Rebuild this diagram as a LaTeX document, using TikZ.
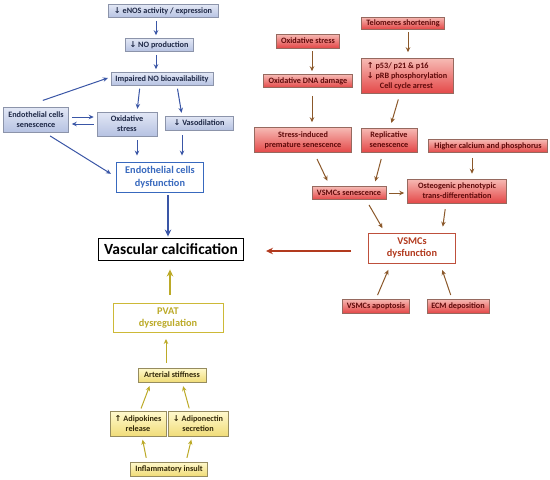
\documentclass[tikz,border=0pt]{standalone}
\usepackage{fontspec}
\setmainfont{Carlito}
\newfontfamily\symfont{DejaVu Sans}
\usetikzlibrary{arrows.meta}
\definecolor{ectop}{RGB}{226,231,245}
\definecolor{ecbot}{RGB}{182,194,226}
\definecolor{ecgray}{RGB}{140,148,170}
\definecolor{ectext}{RGB}{30,40,70}
\definecolor{ecline}{RGB}{56,105,190}
\definecolor{ecarrow}{RGB}{58,86,166}
\definecolor{smtop}{RGB}{246,186,180}
\definecolor{smbot}{RGB}{228,72,72}
\definecolor{smgray}{RGB}{150,105,95}
\definecolor{smtext}{RGB}{95,10,10}
\definecolor{smline}{RGB}{190,80,60}
\definecolor{smarrow}{RGB}{139,88,42}
\definecolor{smdark}{RGB}{178,58,30}
\definecolor{pvtop}{RGB}{255,249,205}
\definecolor{pvbot}{RGB}{240,220,120}
\definecolor{pvgray}{RGB}{150,140,95}
\definecolor{pvtext}{RGB}{50,40,10}
\definecolor{pvline}{RGB}{205,185,55}
\definecolor{pvarrow}{RGB}{188,170,40}
\newcommand{\uparr}{{\symfont\bfseries ↑}}
\newcommand{\dnarr}{{\symfont\bfseries ↓}}

\begin{document}
\begin{tikzpicture}[x=1pt, y=-1pt,
    bluebox/.style={draw=ecgray, line width=0.5pt, top color=ectop, bottom color=ecbot,
                    text=ectext, font=\bfseries\fontsize{8.2}{10}\selectfont,
                    align=center, inner sep=1pt},
    redbox/.style={draw=smgray, line width=0.5pt, top color=smtop, bottom color=smbot,
                   text=smtext, font=\bfseries\fontsize{8.2}{10}\selectfont,
                   align=center, inner sep=1pt},
    yelbox/.style={draw=pvgray, line width=0.5pt, top color=pvtop, bottom color=pvbot,
                   text=pvtext, font=\bfseries\fontsize{8.2}{10}\selectfont,
                   align=center, inner sep=1pt},
    keybox/.style={line width=0.9pt, fill=white, align=center, inner sep=1pt,
                   font=\bfseries\fontsize{10.3}{12.5}\selectfont},
    bluearr/.style={->, >={Stealth[length=5pt, width=4.5pt]}, line width=1pt, ecarrow,
                    shorten <=3pt, shorten >=3pt},
    redarr/.style={->, >={Stealth[length=5pt, width=4.5pt]}, line width=1pt, smarrow,
                   shorten <=3pt, shorten >=3pt},
    yelarr/.style={->, >={Stealth[length=5pt, width=4.5pt]}, line width=1pt, pvarrow,
                   shorten <=3pt, shorten >=3pt},
    bigtip/.style={>={Stealth[length=7pt, width=6.5pt]}}
  ]
    \useasboundingbox (0,0) rectangle (550,480);

    % Endothelial pathway
    \node[bluebox, minimum width=110pt, minimum height=13pt] (enos) at (163,11)
      {\dnarr\ eNOS activity / expression};
    \node[bluebox, minimum width=68pt, minimum height=13pt] (noprod) at (159,45)
      {\dnarr\ NO production};
    \node[bluebox, minimum width=102pt, minimum height=13pt] (impaired) at (162,79)
      {Impaired NO bioavailability};
    \node[bluebox, minimum width=65pt, minimum height=25pt] (ecsen) at (36,120)
      {Endothelial cells\\senescence};
    \node[bluebox, minimum width=60pt, minimum height=24pt] (oxblue) at (127,124)
      {Oxidative\\stress};
    \node[bluebox, minimum width=68pt, minimum height=14pt] (vaso) at (199,123)
      {\dnarr\ Vasodilation};
    \node[keybox, draw=ecline, text=ecline, minimum width=87pt, minimum height=30pt]
      (ecdys) at (160,177) {Endothelial cells\\dysfunction};

    % Central node
    \node[draw=black, line width=0.9pt, fill=white, inner sep=1pt,
          font=\bfseries\fontsize{15.5}{18}\selectfont,
          minimum width=145pt, minimum height=22pt] (vc) at (171,249)
      {Vascular calcification};

    % VSMCs pathway
    \node[redbox, minimum width=83pt, minimum height=12pt] (telo) at (403,23)
      {Telomeres shortening};
    \node[redbox, minimum width=63pt, minimum height=14pt] (oxred) at (308,41)
      {Oxidative stress};
    \node[redbox, minimum width=89pt, minimum height=13pt] (dna) at (308,81)
      {Oxidative DNA damage};
    \node[redbox, align=left, minimum width=92pt, minimum height=35pt] (p53) at (407,76)
      {\uparr\ p53/ p21 \& p16\\\dnarr\ pRB phosphorylation\\\hspace*{1.6em}Cell cycle arrest};
    \node[redbox, minimum width=97pt, minimum height=25pt] (sips) at (303,140)
      {Stress-induced\\premature senescence};
    \node[redbox, minimum width=56pt, minimum height=24pt] (repl) at (389,140)
      {Replicative\\senescence};
    \node[redbox, minimum width=119pt, minimum height=13pt] (calc) at (488,146)
      {Higher calcium and phosphorus};
    \node[redbox, minimum width=74pt, minimum height=13pt] (vsen) at (349,193)
      {VSMCs senescence};
    \node[redbox, minimum width=99pt, minimum height=24pt] (osteo) at (457,191)
      {Osteogenic phenotypic\\trans-differentiation};
    \node[keybox, draw=smline, text=smdark, minimum width=87pt, minimum height=30pt]
      (vdys) at (412,248) {VSMCs\\dysfunction};
    \node[redbox, minimum width=67pt, minimum height=14pt] (apop) at (376,306)
      {VSMCs apoptosis};
    \node[redbox, minimum width=62pt, minimum height=14pt] (ecm) at (458,306)
      {ECM deposition};

    % PVAT pathway
    \node[keybox, draw=pvline, text=pvarrow, minimum width=110pt, minimum height=29pt]
      (pvat) at (168,318) {PVAT\\dysregulation};
    \node[yelbox, minimum width=68pt, minimum height=14pt] (stiff) at (172,375)
      {Arterial stiffness};
    \node[yelbox, minimum width=56pt, minimum height=25pt] (adipok) at (138,424)
      {\uparr\ Adipokines\\release};
    \node[yelbox, minimum width=60pt, minimum height=25pt] (adipon) at (198,424)
      {\dnarr\ Adiponectin\\secretion};
    \node[yelbox, minimum width=77pt, minimum height=14pt] (insult) at (169,469)
      {Inflammatory insult};

    % Endothelial arrows
    \draw[bluearr] ([xshift=-7pt]enos.south) -- ([xshift=-7pt]enos.south |- noprod.north);
    \draw[bluearr] ([xshift=-3pt]noprod.south) -- ([xshift=-3pt]noprod.south |- impaired.north);
    \draw[bluearr, shorten <=21pt] ([xshift=-13pt]ecsen.north) -- ([yshift=2pt]impaired.west);
    \draw[bluearr] ([yshift=3pt]ecsen.east) -- ([yshift=3pt]ecsen.east -| oxblue.west);
    \draw[bluearr] ([yshift=-4pt]ecsen.east -| oxblue.west) -- ([yshift=-4pt]ecsen.east);
    \draw[bluearr, shorten <=6pt, shorten >=6pt] ([xshift=9pt]ecsen.south) -- (ecdys.west);
    \draw[bluearr] ([xshift=-22pt]impaired.south) -- ([xshift=10pt]oxblue.north);
    \draw[bluearr] ([xshift=15pt]impaired.south) -- ([xshift=-17pt]vaso.north);
    \draw[bluearr, shorten <=4pt, shorten >=6pt] ([xshift=10pt]oxblue.south)
      -- ([xshift=10pt]oxblue.south |- ecdys.north);
    \draw[bluearr, shorten <=5pt, shorten >=6pt] ([xshift=-17pt]vaso.south)
      -- ([xshift=-17pt]vaso.south |- ecdys.north);
    \draw[bluearr, bigtip, line width=1.8pt, shorten >=1pt] ([xshift=8pt]ecdys.south)
      -- ([xshift=8pt]ecdys.south |- vc.north);

    % VSMCs arrows
    \draw[redarr, shorten >=6pt] ([xshift=5pt]telo.south) -- ([xshift=5pt]telo.south |- p53.north);
    \draw[redarr] ([xshift=4pt]oxred.south) -- ([xshift=4pt]oxred.south |- dna.north);
    \draw[redarr, shorten <=8pt, shorten >=5pt] ([xshift=4pt]dna.south)
      -- ([xshift=4pt]dna.south |- sips.north);
    \draw[redarr, shorten <=6pt, shorten >=5pt] ([xshift=-7pt]p53.south) -- ([xshift=1pt]repl.north);
    \draw[redarr, shorten <=7pt, shorten >=6pt] ([xshift=11pt]sips.south) -- ([xshift=-19pt]vsen.north);
    \draw[redarr, shorten <=7pt, shorten >=5pt] ([xshift=-6pt]repl.south) -- ([xshift=25pt]vsen.north);
    \draw[redarr, shorten <=5pt, shorten >=5pt] ([xshift=-16pt]calc.south)
      -- ([xshift=-16pt]calc.south |- osteo.north);
    \draw[redarr] (vsen.east) -- (vsen.east -| osteo.west);
    \draw[redarr, shorten <=6pt, shorten >=5pt] ([xshift=17pt]vsen.south) -- ([xshift=-27pt]vdys.north);
    \draw[redarr, shorten <=6pt, shorten >=6pt] ([xshift=-11pt]osteo.south) -- ([xshift=30pt]vdys.north);
    \draw[redarr, bigtip, line width=1.6pt, smdark, shorten <=17pt, shorten >=22pt]
      ([yshift=-3pt]vdys.west) -- ([yshift=-3pt]vdys.west -| vc.east);
    \draw[redarr, shorten <=4pt, shorten >=7pt] (apop.north) -- ([xshift=-21pt]vdys.south);
    \draw[redarr, shorten <=4pt, shorten >=7pt] ([xshift=-6pt]ecm.north) -- ([xshift=28pt]vdys.south);

    % PVAT arrows
    \draw[yelarr, bigtip, line width=1.6pt, shorten <=8pt, shorten >=9pt] ([xshift=2pt]pvat.north)
      -- ([xshift=2pt]pvat.north |- vc.south);
    \draw[yelarr, shorten <=5pt, shorten >=6pt] ([xshift=-6pt]stiff.north)
      -- ([xshift=-6pt]stiff.north |- pvat.south);
    \draw[yelarr, shorten >=4pt] ([xshift=2pt]adipok.north) -- ([xshift=-21pt]stiff.south);
    \draw[yelarr, shorten >=4pt] ([xshift=-8pt]adipon.north) -- ([xshift=10pt]stiff.south);
    \draw[yelarr, shorten <=4pt] ([xshift=-22pt]insult.north) -- ([xshift=4pt]adipok.south);
    \draw[yelarr, shorten <=4pt] ([xshift=17pt]insult.north) -- ([xshift=-6pt]adipon.south);
\end{tikzpicture}
\end{document}
